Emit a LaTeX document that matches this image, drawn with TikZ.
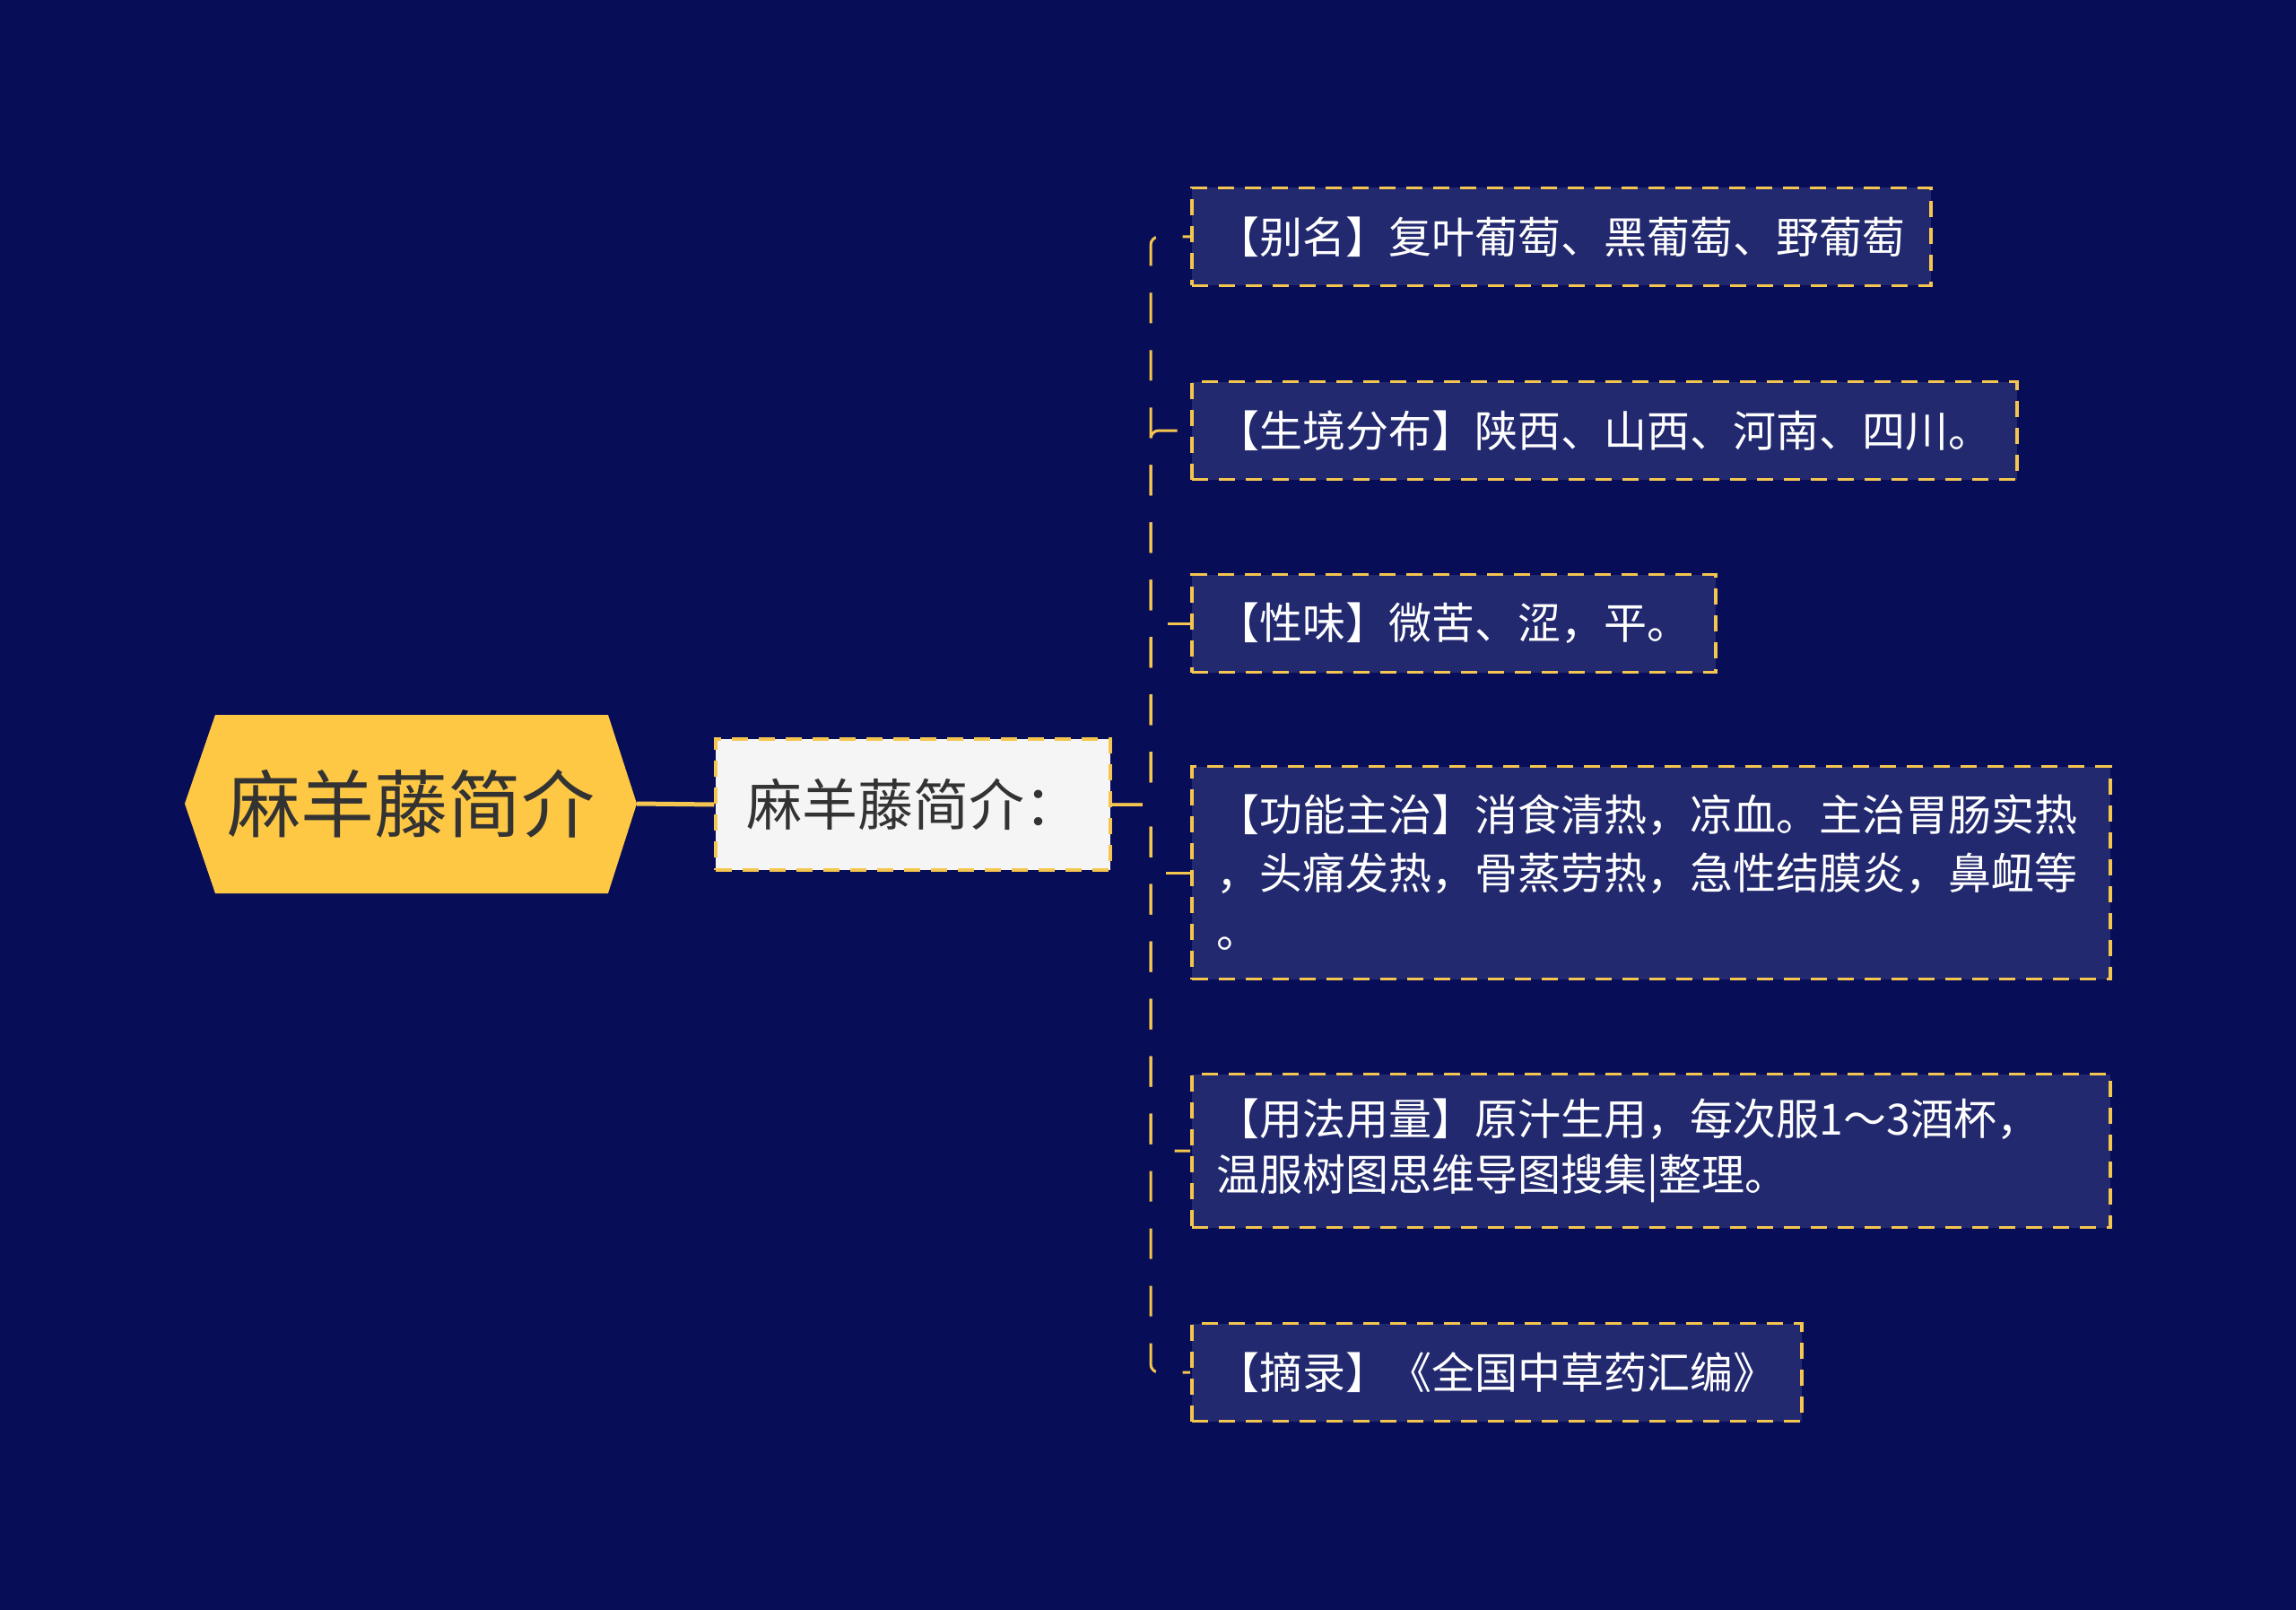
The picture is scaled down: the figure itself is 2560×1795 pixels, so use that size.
\documentclass[tikz,border=0pt]{standalone}
\usepackage{fontspec}
\setmainfont{Noto Sans CJK SC}
\usetikzlibrary{calc}
\definecolor{bgc}{HTML}{080D58}
\definecolor{leaffill}{HTML}{22296F}
\definecolor{gold}{HTML}{F5C64F}
\definecolor{rootfill}{HTML}{FEC844}
\definecolor{darktext}{HTML}{333333}
\definecolor{midfill}{HTML}{F5F5F5}
\tikzset{
  leafbox/.style={draw=gold, fill=leaffill, line width=3.5pt, dash pattern=on 18pt off 12pt,
    anchor=west, inner xsep=28pt, inner ysep=0pt, text=white, align=left,
    font=\fontsize{48}{65}\selectfont, minimum height=109pt},
  midbox/.style={draw=gold, fill=midfill, line width=3.5pt, dash pattern=on 18pt off 12pt,
    inner sep=0pt, minimum width=440pt, minimum height=146pt, text=darktext,
    font=\fontsize{62}{70}\selectfont},
  rootlabel/.style={inner sep=0pt, text=darktext, font=\fontsize{82}{90}\selectfont},
  busline/.style={draw=gold, line width=3pt, dash pattern=on 34pt off 30pt, rounded corners=9pt},
  rootline/.style={draw=gold, line width=5pt}
}
\begin{document}
\begin{tikzpicture}[x=1pt,y=-1pt]
\fill[bgc] (0,0) rectangle (2560,1795);
\useasboundingbox (0,0) rectangle (2560,1795);
% root hexagon
\coordinate (hl) at (206,896);
\coordinate (htl) at (240,797);
\coordinate (htr) at (678,797);
\coordinate (hr) at (710,896);
\coordinate (hbr) at (678,996);
\coordinate (hbl) at (240,996);
\fill[rootfill] (hl) -- (htl) -- (htr) -- (hr) -- (hbr) -- (hbl) -- cycle;
\node[rootlabel] (root) at (458,896) {麻羊藤简介};
% middle node
\node[midbox] (mid) at (1018,897) {麻羊藤简介：};
\draw[rootline] (hr) -- (mid.west);
% leaves
\node[leafbox] (l1) at (1327,264) {【别名】复叶葡萄、黑葡萄、野葡萄};
\node[leafbox] (l2) at (1327,480) {【生境分布】陕西、山西、河南、四川。};
\node[leafbox] (l3) at (1327,695) {【性味】微苦、涩，平。};
\node[leafbox, text width=968pt, minimum height=237pt] (l4) at (1327,973)
  {【功能主治】消食清热，凉血。主治胃肠实热\\，头痛发热，骨蒸劳热，急性结膜炎，鼻衄等\\。};
\node[leafbox, text width=968pt, minimum height=171pt, font=\fontsize{48}{62}\selectfont] (l5) at (1327,1283)
  {【用法用量】原汁生用，每次服1～3酒杯，\\温服树图思维导图搜集|整理。};
\node[leafbox] (l6) at (1327,1530) {【摘录】《全国中草药汇编》};
% connectors
\coordinate (j) at (1283,897);
\foreach \n in {l1,l2,l3,l4,l5,l6}{
  \draw[busline] (mid.east) -- (j) |- (\n.west);
}
\end{tikzpicture}
\end{document}
